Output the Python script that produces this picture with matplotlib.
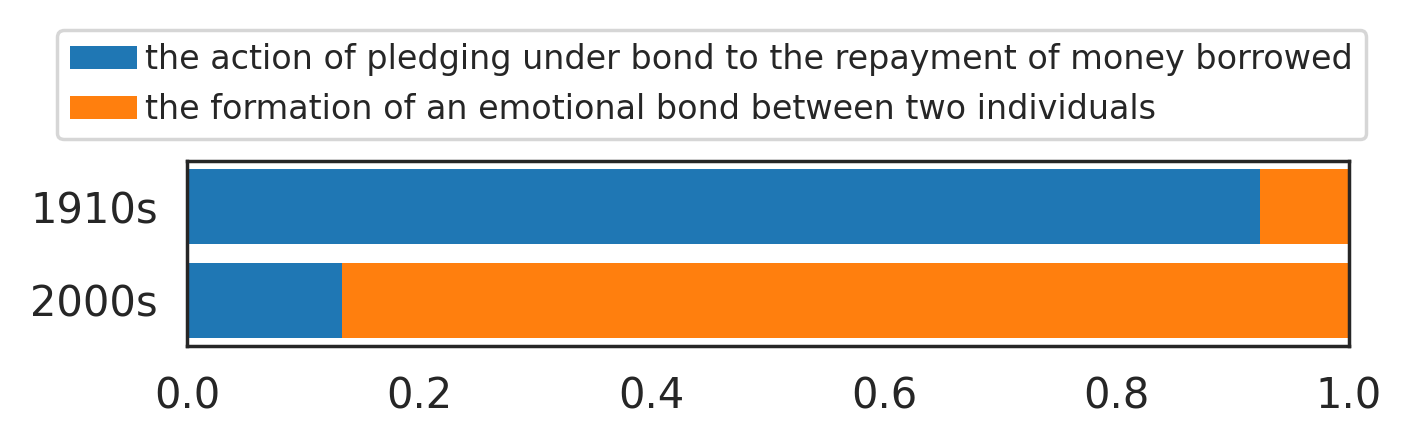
import matplotlib
matplotlib.use("Agg")
import matplotlib.pyplot as plt
import seaborn as sns
import numpy as np

sns.set_theme(style="white")
plt.rcParams['font.family'] = ['DejaVu Sans']

decades = ["1910s", "2000s"]
sense_labels = [
    "the action of pledging under bond to the repayment of money borrowed",
    "the formation of an emotional bond between two individuals",
]
share_pledge = [0.923, 0.133]
share_emotional = [0.077, 0.867]
colors = ["#1f77b4", "#ff7f0e"]

fig = plt.figure(figsize=(7.06, 2.235), dpi=200)
ax = fig.add_axes([187/1412, 1-346/447, (1349-187)/1412, (346-161)/447])

y = np.arange(len(decades))
left = np.zeros(len(decades))
for vals, lab, col in zip([share_pledge, share_emotional], sense_labels, colors):
    ax.barh(y, vals, left=left, height=0.8, color=col, label=lab, linewidth=0)
    left = left + np.array(vals)

ax.set_yticks(y)
ax.set_yticklabels(decades)
ax.invert_yaxis()
ax.set_xlim(0, 1)
ax.set_xticks([0.0, 0.2, 0.4, 0.6, 0.8, 1.0])
ax.tick_params(axis='both', labelsize=15, length=0, pad=10.5, colors='.15')
for s in ax.spines.values():
    s.set_color('.15')
    s.set_linewidth(1.25)

handles, labels = ax.get_legend_handles_labels()
leg = fig.legend(handles, labels, loc='upper left',
                 bbox_to_anchor=(57/1412, 1-30/447), borderaxespad=0,
                 fontsize=12, handletextpad=0.25, frameon=True)
leg.get_frame().set_edgecolor('0.8')
leg.get_frame().set_linewidth(1.25)
for t in leg.get_texts():
    t.set_color('.15')

fig.savefig("out.png", dpi=200)
